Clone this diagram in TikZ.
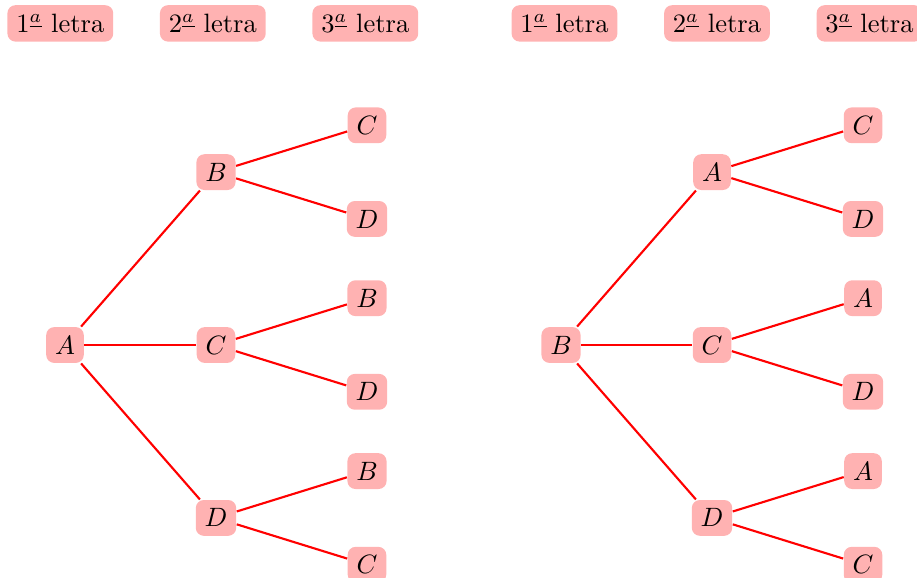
\documentclass[tikz,border=0pt]{standalone}
\usepackage{tikz}
\usetikzlibrary{positioning}

\begin{document}
\begin{tikzpicture}[
  letra/.style={rectangle, rounded corners=3pt, fill=red!30, inner sep=3.33pt},
  ramo/.style={draw=red, thick},
]
  \useasboundingbox (-0.861,-3.073) rectangle (11.285,4.57);

  % Cabecalhos
  \node[letra] (h11) at (-0.062,4.26) {$1^{\underline{a}}$ letra};
  \node[letra, right=2.02cm of h11.center, anchor=center] (h12) {$2^{\underline{a}}$ letra};
  \node[letra, right=2.02cm of h12.center, anchor=center] (h13) {$3^{\underline{a}}$ letra};
  \node[letra] (h21) at (6.616,4.26) {$1^{\underline{a}}$ letra};
  \node[letra, right=2.02cm of h21.center, anchor=center] (h22) {$2^{\underline{a}}$ letra};
  \node[letra, right=2.02cm of h22.center, anchor=center] (h23) {$3^{\underline{a}}$ letra};

  % Arvore 1
  \node[letra] (r1) at (0,0) {$A$};
  \node[letra, above right=2.29cm and 2cm of r1.center, anchor=center] (r1b) {$B$};
  \node[letra, right=2cm of r1.center, anchor=center] (r1c) {$C$};
  \node[letra, below right=2.29cm and 2cm of r1.center, anchor=center] (r1d) {$D$};
  \node[letra, above right=0.62cm and 2cm of r1b.center, anchor=center] (r1bc) {$C$};
  \node[letra, below right=0.62cm and 2cm of r1b.center, anchor=center] (r1bd) {$D$};
  \node[letra, above right=0.62cm and 2cm of r1c.center, anchor=center] (r1cb) {$B$};
  \node[letra, below right=0.62cm and 2cm of r1c.center, anchor=center] (r1cd) {$D$};
  \node[letra, above right=0.62cm and 2cm of r1d.center, anchor=center] (r1db) {$B$};
  \node[letra, below right=0.62cm and 2cm of r1d.center, anchor=center] (r1dc) {$C$};

  % Arvore 2
  \node[letra] (r2) at (6.57,0) {$B$};
  \node[letra, above right=2.29cm and 2cm of r2.center, anchor=center] (r2a) {$A$};
  \node[letra, right=2cm of r2.center, anchor=center] (r2c) {$C$};
  \node[letra, below right=2.29cm and 2cm of r2.center, anchor=center] (r2d) {$D$};
  \node[letra, above right=0.62cm and 2cm of r2a.center, anchor=center] (r2ac) {$C$};
  \node[letra, below right=0.62cm and 2cm of r2a.center, anchor=center] (r2ad) {$D$};
  \node[letra, above right=0.62cm and 2cm of r2c.center, anchor=center] (r2ca) {$A$};
  \node[letra, below right=0.62cm and 2cm of r2c.center, anchor=center] (r2cd) {$D$};
  \node[letra, above right=0.62cm and 2cm of r2d.center, anchor=center] (r2da) {$A$};
  \node[letra, below right=0.62cm and 2cm of r2d.center, anchor=center] (r2dc) {$C$};

  % Ramos
  \foreach \p/\f in {r1/r1b, r1/r1c, r1/r1d, r1b/r1bc, r1b/r1bd, r1c/r1cb, r1c/r1cd,
                     r1d/r1db, r1d/r1dc, r2/r2a, r2/r2c, r2/r2d, r2a/r2ac, r2a/r2ad,
                     r2c/r2ca, r2c/r2cd, r2d/r2da, r2d/r2dc}
    \draw[ramo] (\p) -- (\f);
\end{tikzpicture}
\end{document}
